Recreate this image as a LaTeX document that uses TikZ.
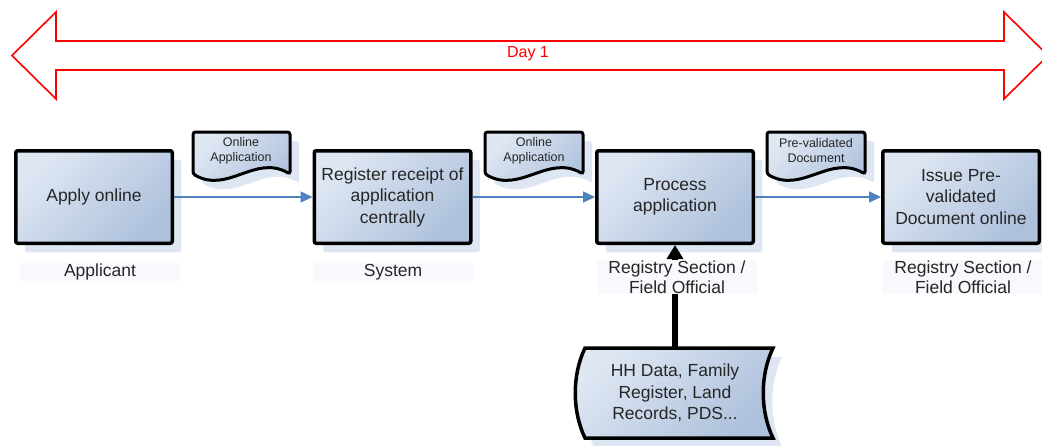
\documentclass[tikz,border=0pt]{standalone}
\usepackage{fontspec}
\setmainfont{Liberation Sans}
\usetikzlibrary{arrows.meta,shadows}
\definecolor{boxlight}{HTML}{DFE7F3}
\definecolor{boxdark}{HTML}{AEC1DC}
\definecolor{shadowc}{HTML}{DDE6F2}
\definecolor{labelbg}{HTML}{F7F9FC}
\definecolor{flowblue}{HTML}{4F81BD}
\definecolor{dayred}{HTML}{FF0000}
\definecolor{txt}{HTML}{262626}
\begin{document}
\begin{tikzpicture}[x=1pt,y=-1pt,
  boxshadow/.style={drop shadow={shadow xshift=9pt,shadow yshift=-9pt,fill=shadowc,opacity=1}},
  procbox/.style={draw=black,line width=3.5pt,rounded corners=2pt,
    minimum width=156.5pt,minimum height=92.5pt,inner sep=0pt,
    top color=boxlight,bottom color=boxdark,shading angle=45,
    align=center,text=txt,font=\fontsize{17.5}{21.5}\selectfont,boxshadow},
  docshape/.style={draw=black,line width=3pt,rounded corners=2.5pt,
    top color=boxlight,bottom color=boxdark,shading angle=45,boxshadow},
  doctext/.style={align=center,text=txt,font=\fontsize{12.5}{15}\selectfont,inner sep=0pt},
  lbl/.style={align=center,text=txt,font=\fontsize{17.5}{20}\selectfont,
    fill=labelbg,minimum width=160pt,inner xsep=2pt,inner ysep=1pt},
  flow/.style={draw=flowblue,line width=1.6pt,-{Triangle[length=12pt,width=11pt]}},
  bigarrow/.style={draw=black,line width=5.5pt,-{Triangle[length=14pt,width=16pt]}}
]
\useasboundingbox (0,0) rectangle (1042,445);

% Day 1 double arrow
\draw[dayred,line width=1.6pt,line join=miter]
  (12,55.5) -- (56,12) -- (56,41) -- (1004,41) -- (1004,12) -- (1048,55.5)
  -- (1004,99) -- (1004,70) -- (56,70) -- (56,99) -- cycle;
\node[text=dayred,font=\fontsize{16}{19}\selectfont] (day) at (528,54) {Day 1};

% documents
\draw[docshape] (193,132) -- (290,132) -- (290,174)
  .. controls (255,154) and (228,194) .. (193,174) -- cycle;
\node[doctext] (doca) at (241,150.5) {Online\\Application};
\draw[docshape] (485,132) -- (583,132) -- (583,174)
  .. controls (548,154) and (520,194) .. (485,174) -- cycle;
\node[doctext] (docb) at (534,150.5) {Online\\Application};
\draw[docshape] (767,132) -- (865,132) -- (865,174)
  .. controls (830,154) and (802,194) .. (767,174) -- cycle;
\node[doctext] (docc) at (816,150.5) {Pre-validated\\Document};

% process boxes
\node[procbox] (apply) at (94,197) {Apply online};
\node[procbox] (reg) at (392.5,197) {Register receipt of\\application\\centrally};
\node[procbox] (proc) at (675,197) {Process\\application};
\node[procbox] (issue) at (961,197) {Issue Pre-\\validated\\Document online};

% flows
\draw[flow] (apply.east) -- (reg.west);
\draw[flow] (reg.east) -- (proc.west);
\draw[flow] (proc.east) -- (issue.west);

% stored data
\draw[docshape,line width=3.5pt,rounded corners=0pt]
  (585,348) -- (773,348) .. controls (760,375) and (760,411) .. (773,438)
  -- (585,438) .. controls (572,411) and (572,375) .. (585,348) -- cycle;
\node[align=center,text=txt,font=\fontsize{17.5}{21.5}\selectfont,
  minimum width=180pt,minimum height=90pt,inner sep=0pt] (hh) at (675,393)
  {HH Data, Family\\Register, Land\\Records, PDS...};

\draw[bigarrow] (hh.north) -- (proc.south);

% role labels
\node[lbl] (lapply) at (100,272) {Applicant};
\node[lbl] (lreg) at (393,272) {System};
\node[lbl] (lproc) at (677,277) {Registry Section /\\Field Official};
\node[lbl] (lissue) at (963,277) {Registry Section /\\Field Official};
\end{tikzpicture}
\end{document}
